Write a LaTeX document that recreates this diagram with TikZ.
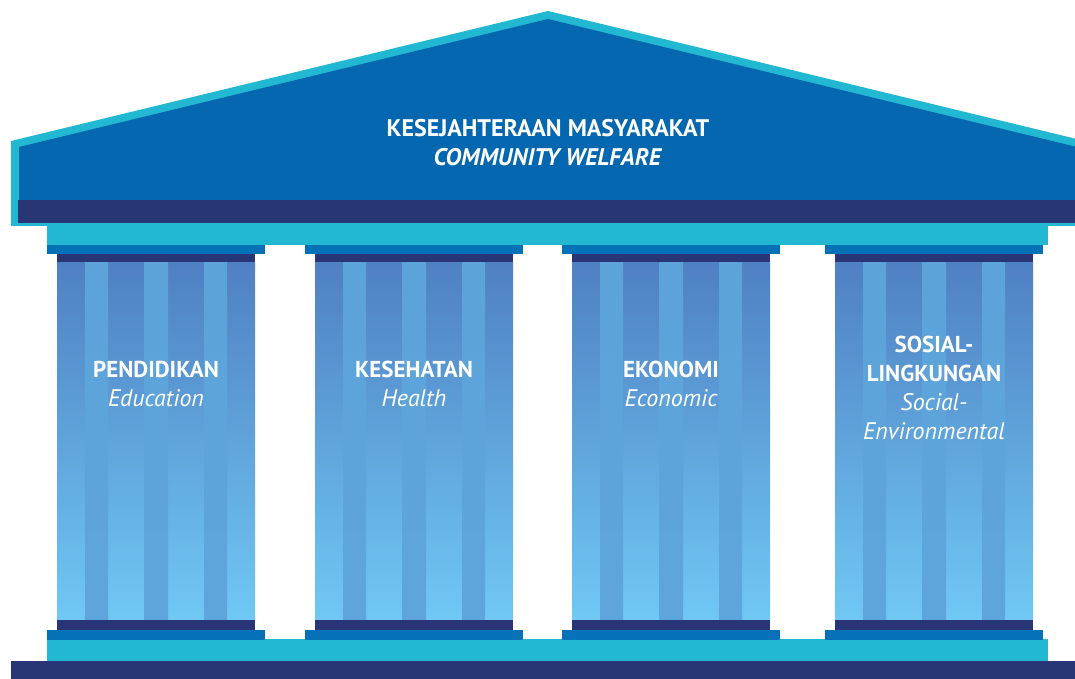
\documentclass[tikz,border=0pt]{standalone}
\usepackage{fontspec}
\setmainfont{PT Sans}
\definecolor{roofcyan}{HTML}{22B8D1}
\definecolor{roofblue}{HTML}{0467B0}
\definecolor{navyband}{HTML}{283677}
\definecolor{capblue}{HTML}{0571B7}
\definecolor{widetop}{HTML}{4F80C3}
\definecolor{widebot}{HTML}{70C8F3}
\definecolor{narrowtop}{HTML}{5BA3D9}
\definecolor{narrowbot}{HTML}{5DA5DA}
\newcommand{\pilsub}[1]{{\fontsize{24}{29}\selectfont\itshape #1}}
\tikzset{
  headtext/.style={text=white, align=center, font=\fontsize{24}{29}\selectfont},
  pillartext/.style={text=white, align=center, font=\fontsize{23}{29}\selectfont},
  widestripe/.style={top color=widetop, bottom color=widebot, draw=none},
  narrowstripe/.style={top color=narrowtop, bottom color=narrowbot, draw=none},
}
\begin{document}
\begin{tikzpicture}[x=1pt,y=1pt]
\useasboundingbox (0,0) rectangle (1075,679);
\clip (0,0) rectangle (1075,679);
% pediment
\fill[roofcyan] (11,453) -- (11,538) -- (548,668) -- (1085,538) -- (1085,453) -- cycle;
\fill[roofblue] (19,456) -- (19,532) -- (548,660) -- (1077,532) -- (1077,456) -- cycle;
\fill[navyband] (18,456) rectangle (1078,479);
% entablature under the roof
\fill[roofcyan] (47,434) rectangle (1048,456);
% base steps
\fill[roofcyan] (47,18) rectangle (1048,40);
\fill[navyband] (11,0) rectangle (1085,18);
% columns
\foreach \x in {57,315,572,835}{
  \fill[capblue] (\x-10,425) rectangle (\x+208,434);
  \fill[navyband] (\x,416) rectangle (\x+198,425);
  \foreach \a/\b in {0/28,51/87,111/147,170/198}
    \fill[widestripe] (\x+\a,59) rectangle (\x+\b,416);
  \foreach \a/\b in {28/51,87/111,147/170}
    \fill[narrowstripe] (\x+\a,59) rectangle (\x+\b,416);
  \fill[navyband] (\x,49) rectangle (\x+198,59);
  \fill[capblue] (\x-10,39) rectangle (\x+208,49);
}
% labels
\node[headtext] (roof) at (548,536.5) {\textbf{KESEJAHTERAAN MASYARAKAT}\\\textbf{\textit{COMMUNITY WELFARE}}};
\node[pillartext] (edu) at (156,295) {\textbf{PENDIDIKAN}\\\pilsub{Education}};
\node[pillartext] (health) at (414,295) {\textbf{KESEHATAN}\\\pilsub{Health}};
\node[pillartext] (eco) at (671,295) {\textbf{EKONOMI}\\\pilsub{Economic}};
\node[pillartext] (soc) at (934,291) {\textbf{SOSIAL-}\\\textbf{LINGKUNGAN}\\\pilsub{Social-}\\\pilsub{Environmental}};
\end{tikzpicture}
\end{document}
